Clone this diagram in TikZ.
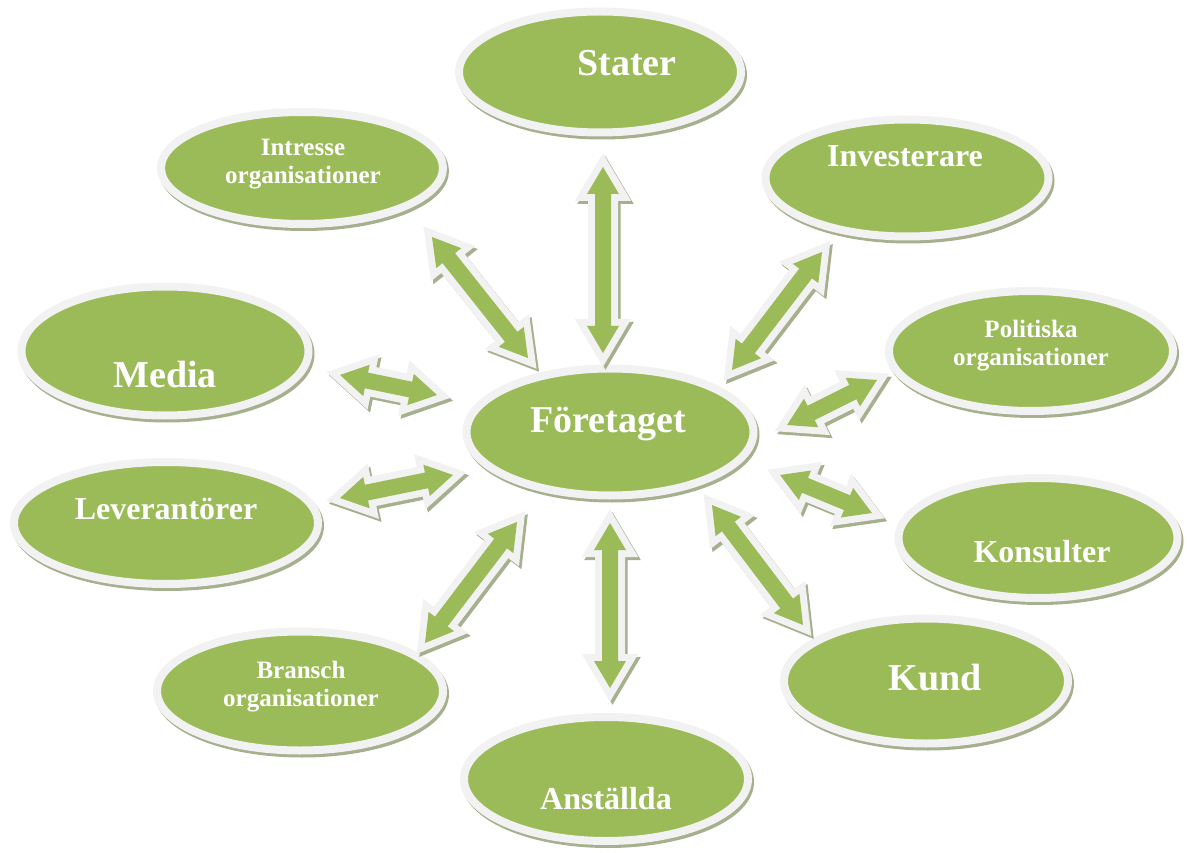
\documentclass[tikz,border=0pt]{standalone}
\usepackage{fontspec}
\setmainfont{Liberation Serif}
\usetikzlibrary{calc,shapes.geometric,shadows}

\definecolor{leaf}{HTML}{9BBB59}
\definecolor{rim}{HTML}{F2F2F2}
\definecolor{shade}{HTML}{A6B08F}

% dimensions of the double block arrows
\def\hl{27pt}  % head length
\def\hw{16pt}  % half width of the head
\def\sw{8pt}   % half width of the shaft

% outline of a double-headed block arrow between two named points
\newcommand\arrowpath[2]{%
  (#1)
  -- ($($(#1)!\hl!(#2)$)!\hw!90:(#2)$)
  -- ($($(#1)!\hl!(#2)$)!\sw!90:(#2)$)
  -- ($($(#2)!\hl!(#1)$)!\sw!90:(#2)$)
  -- ($($(#2)!\hl!(#1)$)!\hw!90:(#2)$)
  -- (#2)
  -- ($($(#2)!\hl!(#1)$)!\hw!-90:(#2)$)
  -- ($($(#2)!\hl!(#1)$)!\sw!-90:(#2)$)
  -- ($($(#1)!\hl!(#2)$)!\sw!-90:(#2)$)
  -- ($($(#1)!\hl!(#2)$)!\hw!-90:(#2)$)
  -- cycle}

\newcommand\darrow[2]{%
  \coordinate (#1-s) at ($(#1)+(2.5,3)$);
  \coordinate (#2-s) at ($(#2)+(2.5,3)$);
  \filldraw[arrshadow] \arrowpath{#1-s}{#2-s};
  \filldraw[arrrim] \arrowpath{#1}{#2};
  \fill[leaf] \arrowpath{#1}{#2};
}

\tikzset{
  bubble/.style={ellipse, inner sep=0pt, fill=leaf, draw=rim, line width=8pt,
    copy shadow={shadow xshift=2pt, shadow yshift=-3pt, fill=shade, draw=shade}},
  arrshadow/.style={fill=shade, draw=shade, line width=14pt, line join=miter, miter limit=10},
  arrrim/.style={fill=rim, draw=rim, line width=14pt, line join=miter, miter limit=10},
  lab/.style={text=white, inner sep=0pt, anchor=base},
  bigtxt/.style={lab, font=\fontsize{38}{40}\selectfont\bfseries},
  midtxt/.style={lab, font=\fontsize{32}{34}\selectfont\bfseries},
  smalltxt/.style={text=white, inner sep=0pt, align=center,
    font=\fontsize{25}{28}\selectfont\bfseries},
}

\begin{document}
\begin{tikzpicture}[x=1pt,y=-1pt]
\useasboundingbox (0,0) rectangle (1187,853);

% stakeholder ellipses
\node[bubble, minimum width=282, minimum height=121] (stater) at (600,72) {};
\node[bubble, minimum width=282, minimum height=112] (intresse) at (302,168) {};
\node[bubble, minimum width=283, minimum height=117] (invest) at (907,178) {};
\node[bubble, minimum width=287, minimum height=129] (media) at (165,351) {};
\node[bubble, minimum width=284, minimum height=120] (politik) at (1031,351) {};
\node[bubble, minimum width=287, minimum height=127] (foretag) at (610,432) {};
\node[bubble, minimum width=304, minimum height=122] (lev) at (166,523) {};
\node[bubble, minimum width=279, minimum height=120] (konsult) at (1038,538) {};
\node[bubble, minimum width=284, minimum height=125] (kund) at (926,681) {};
\node[bubble, minimum width=286, minimum height=119] (bransch) at (300,691) {};
\node[bubble, minimum width=284, minimum height=124] (anst) at (606,779) {};

% labels
\node[bigtxt] (stater-t) at (627,76) {Stater};
\node[smalltxt] (intresse-t) at (303,164) {Intresse\\organisationer};
\node[midtxt] (invest-t) at (905,167) {Investerare};
\node[bigtxt] (media-t) at (165,387) {Media};
\node[smalltxt] (politik-t) at (1031,346) {Politiska\\organisationer};
\node[bigtxt] (foretag-t) at (608,432) {Företaget};
\node[midtxt] (lev-t) at (166,519) {Leverantörer};
\node[midtxt] (konsult-t) at (1042,562) {Konsulter};
\node[bigtxt] (kund-t) at (935,690) {Kund};
\node[smalltxt] (bransch-t) at (301,687) {Bransch\\organisationer};
\node[midtxt] (anst-t) at (606,809) {Anställda};

% arrow end points
\coordinate (a1) at (603,167);  \coordinate (b1) at (603,353);
\coordinate (a2) at (432,237);  \coordinate (b2) at (528,358);
\coordinate (a3) at (822,252);  \coordinate (b3) at (732,370);
\coordinate (a4) at (340,375);  \coordinate (b4) at (437,395);
\coordinate (a5) at (340,498);  \coordinate (b5) at (453,475);
\coordinate (a6) at (787,425);  \coordinate (b6) at (877,380);
\coordinate (a7) at (780,475);  \coordinate (b7) at (872,513);
\coordinate (a8) at (712,505);  \coordinate (b8) at (803,625);
\coordinate (a9) at (610,523);  \coordinate (b9) at (610,688);
\coordinate (a10) at (517,522); \coordinate (b10) at (425,643);

% double block arrows
\darrow{a1}{b1}
\darrow{a2}{b2}
\darrow{a3}{b3}
\darrow{a4}{b4}
\darrow{a5}{b5}
\darrow{a6}{b6}
\darrow{a7}{b7}
\darrow{a8}{b8}
\darrow{a9}{b9}
\darrow{a10}{b10}
\end{tikzpicture}
\end{document}
